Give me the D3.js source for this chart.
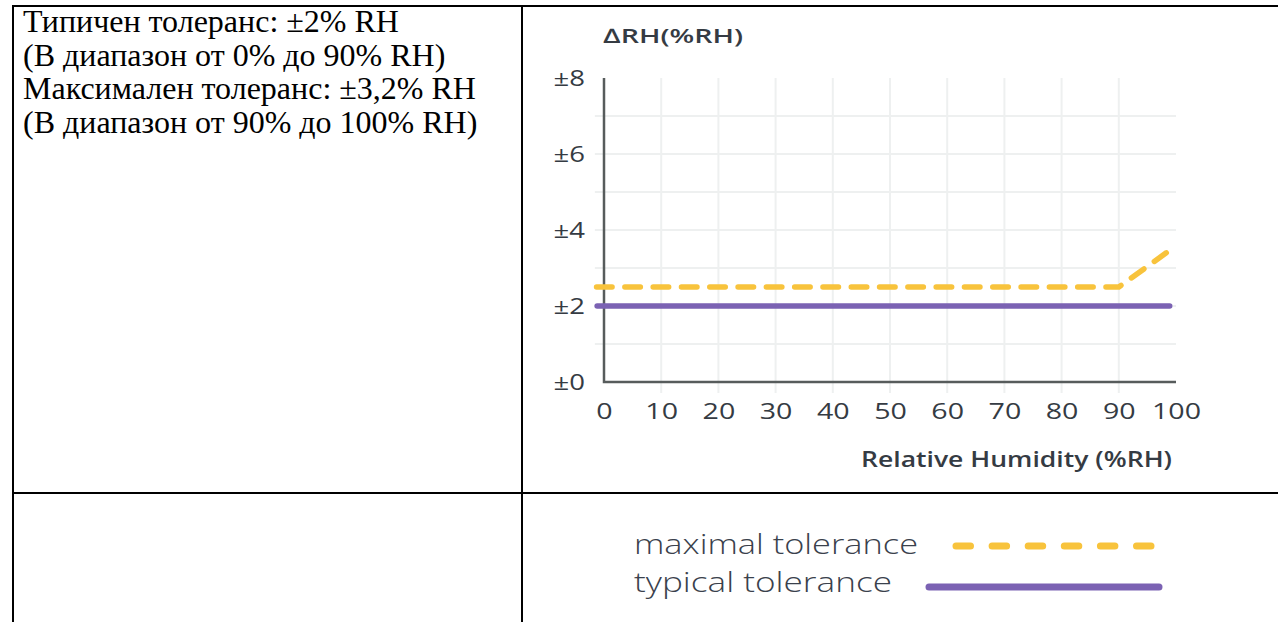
<!DOCTYPE html>
<html>
  <head>
    <meta charset="utf-8" />
    <title>RH tolerance</title>
    <script src="https://d3js.org/d3.v7.min.js"></script>
    <style>
      body { margin: 0; background: #fff; }
      svg text { font-family: "Open Sans", sans-serif; }
    </style>
  </head>
  <body>
    <div id="chart"></div>
    <script>
// data
const xTicks = [0, 10, 20, 30, 40, 50, 60, 70, 80, 90, 100];
const yTicks = [0, 2, 4, 6, 8];
const yTickLabels = ['±0', '±2', '±4', '±6', '±8'];
const gridY = [1, 2, 3, 4, 5, 6, 7];
const gridX = [10, 20, 30, 40, 50, 60, 70, 80, 90];

const typicalX = [-1.2, 98.9];
const typicalY = [2, 2];
const maximalX = [-1.3, 90, 98.3];
const maximalY = [2.5, 2.5, 3.4];

const noteLines = [
  'Типичен толеранс: ±2% RH',
  '(В диапазон от 0% до 90% RH)',
  'Максимален толеранс: ±3,2% RH',
  '(В диапазон от 90% до 100% RH)'
];
const legendLabels = ['maximal tolerance', 'typical tolerance'];

// dimensions
const width = 1278;
const height = 622;
const yellow = '#f8c33c';
const purple = '#7b62b3';
const ink = '#353b43';

const svg = d3.select('#chart')
  .append('svg')
  .attr('width', width)
  .attr('height', height);

// table borders
const border = svg.append('g')
  .attr('stroke', '#000')
  .attr('stroke-width', 2);
border.append('line').attr('x1', 12).attr('x2', width).attr('y1', 6).attr('y2', 6);
border.append('line').attr('x1', 13).attr('x2', 13).attr('y1', 5).attr('y2', height);
border.append('line').attr('x1', 522).attr('x2', 522).attr('y1', 5).attr('y2', height);
border.append('line').attr('x1', 12).attr('x2', width).attr('y1', 493).attr('y2', 493);

// note text on the left
svg.append('g')
  .selectAll('text')
  .data(noteLines)
  .enter()
  .append('text')
  .attr('x', 23)
  .attr('y', (d, i) => 32 + i * 33.7)
  .style('font-family', '"Liberation Serif", "Times New Roman", serif')
  .style('font-size', '32px')
  .attr('fill', '#000')
  .text(d => d);

// scales
const x = d3.scaleLinear().domain([0, 100]).range([604, 1176]);
const y = d3.scaleLinear().domain([0, 8]).range([382, 78]);

// grid
const grid = svg.append('g')
  .attr('stroke', '#eef0f0')
  .attr('stroke-width', 2);
grid.selectAll('.gy')
  .data(gridY)
  .enter()
  .append('line')
  .attr('x1', x(-1.6))
  .attr('x2', x(100))
  .attr('y1', d => y(d))
  .attr('y2', d => y(d));
grid.selectAll('.gx')
  .data(gridX)
  .enter()
  .append('line')
  .attr('x1', d => x(d))
  .attr('x2', d => x(d))
  .attr('y1', y(8))
  .attr('y2', y(0) + 11);

// axes
const xAxis = d3.axisBottom(x)
  .tickValues(xTicks)
  .tickSize(0)
  .tickPadding(21);
const yAxis = d3.axisLeft(y)
  .tickValues(yTicks)
  .tickSize(0)
  .tickFormat((d, i) => yTickLabels[i]);

const gx = svg.append('g')
  .attr('transform', `translate(0, ${y(0)})`)
  .call(xAxis);
const gy = svg.append('g')
  .attr('transform', `translate(${x(0)}, 0)`)
  .call(yAxis);

[gx, gy].forEach(g => {
  g.select('.domain').remove();
  g.selectAll('text')
    .style('font-size', '22px')
    .attr('fill', ink);
});
// wide geometric digits: stretch the glyphs sideways
gx.selectAll('text').attr('transform', 'scale(1.3,1)');
gy.selectAll('text')
  .attr('x', -19 / 1.25)
  .attr('transform', 'scale(1.25,1)');

svg.append('path')
  .attr('d', `M${x(0)},${y(8)}V${y(0)}H${x(100)}`)
  .attr('fill', 'none')
  .attr('stroke', '#575c5c')
  .attr('stroke-width', 2.5);

// titles
svg.append('text')
  .attr('x', 603)
  .attr('y', 43)
  .attr('textLength', 140)
  .attr('lengthAdjust', 'spacingAndGlyphs')
  .style('font-size', '20px')
  .style('font-weight', 600)
  .attr('fill', ink)
  .text('∆RH(%RH)');

svg.append('text')
  .attr('x', 861)
  .attr('y', 467)
  .attr('textLength', 311)
  .attr('lengthAdjust', 'spacingAndGlyphs')
  .style('font-size', '21px')
  .style('font-weight', 600)
  .attr('fill', ink)
  .text('Relative Humidity (%RH)');

// lines
const line = d3.line()
  .x(d => x(d[0]))
  .y(d => y(d[1]));

svg.append('path')
  .datum(d3.zip(typicalX, typicalY))
  .attr('d', line)
  .attr('fill', 'none')
  .attr('stroke', purple)
  .attr('stroke-width', 5.5)
  .attr('stroke-linecap', 'round');

svg.append('path')
  .datum(d3.zip(maximalX, maximalY))
  .attr('d', line)
  .attr('fill', 'none')
  .attr('stroke', yellow)
  .attr('stroke-width', 5.5)
  .attr('stroke-linecap', 'round')
  .attr('stroke-dasharray', '15.5,12.8');

// legend
const legendWidths = [284, 258];
const legend = svg.append('g');
legend.selectAll('text')
  .data(legendLabels)
  .enter()
  .append('text')
  .attr('x', 634)
  .attr('y', (d, i) => 554 + i * 38)
  .attr('textLength', (d, i) => legendWidths[i])
  .attr('lengthAdjust', 'spacingAndGlyphs')
  .style('font-size', '28px')
  .style('font-weight', 300)
  .attr('fill', '#3a414c')
  .text(d => d);

legend.append('line')
  .attr('x1', 956).attr('x2', 1158)
  .attr('y1', 546).attr('y2', 546)
  .attr('stroke', yellow)
  .attr('stroke-width', 7)
  .attr('stroke-linecap', 'round')
  .attr('stroke-dasharray', '14.5,21.6');

legend.append('line')
  .attr('x1', 929).attr('x2', 1159)
  .attr('y1', 587).attr('y2', 587)
  .attr('stroke', purple)
  .attr('stroke-width', 7)
  .attr('stroke-linecap', 'round');
    </script>
  </body>
</html>
